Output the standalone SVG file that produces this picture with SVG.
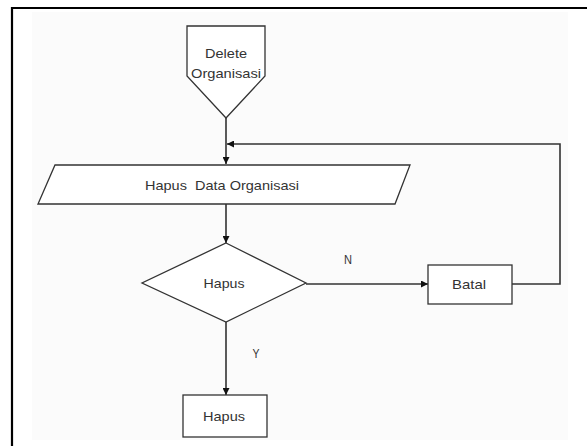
<svg xmlns="http://www.w3.org/2000/svg" width="587" height="446" viewBox="0 0 587 446">
<style>
.shape{fill:#fff;stroke:#333;stroke-width:1.3}
.conn{fill:none;stroke:#333;stroke-width:1.6}
.lbl{font-family:"Liberation Sans",Arial,sans-serif;font-size:13px;fill:#333;text-anchor:middle;dominant-baseline:central}
</style>
<defs>
<marker id="arr" viewBox="0 0 10 10" refX="10" refY="5" markerWidth="7" markerHeight="7" markerUnits="userSpaceOnUse" orient="auto">
<path d="M0,0 L10,5 L0,10 z" fill="#111"/>
</marker>
</defs>
<rect x="0" y="0" width="587" height="446" fill="#fff"/>
<rect x="32" y="12" width="536" height="428" fill="#fbfbfb"/>
<path d="M12,446 V8 H587" fill="none" stroke="#000" stroke-width="2.2"/>
<g id="connectors">
<path class="conn" d="M226,118 V164" marker-end="url(#arr)"/>
<path class="conn" d="M512,284 H560 V144 H227" marker-end="url(#arr)"/>
<path class="conn" d="M226,204 V243" marker-end="url(#arr)"/>
<path class="conn" d="M306,284 H428" marker-end="url(#arr)"/>
<path class="conn" d="M226,322 V395" marker-end="url(#arr)"/>
<text class="lbl" x="348" y="259" textLength="8" lengthAdjust="spacingAndGlyphs">N</text>
<text class="lbl" x="256" y="353" textLength="7" lengthAdjust="spacingAndGlyphs">Y</text>
</g>
<g id="start">
<polygon class="shape" points="187,26 265,26 265,76 226,118 187,76"/>
<text class="lbl" x="226" y="53" textLength="42" lengthAdjust="spacingAndGlyphs">Delete</text>
<text class="lbl" x="226" y="73" textLength="70" lengthAdjust="spacingAndGlyphs">Organisasi</text>
</g>
<g id="input">
<polygon class="shape" points="55,165 410,165 395,204 38,204"/>
<text class="lbl" x="222" y="185" xml:space="preserve" textLength="154" lengthAdjust="spacingAndGlyphs">Hapus  Data Organisasi</text>
</g>
<g id="decision">
<polygon class="shape" points="226,243 306,283 226,322 142,283"/>
<text class="lbl" x="224" y="283" textLength="41" lengthAdjust="spacingAndGlyphs">Hapus</text>
</g>
<g id="batal">
<rect class="shape" x="428" y="265" width="84" height="39"/>
<text class="lbl" x="469" y="284" textLength="34" lengthAdjust="spacingAndGlyphs">Batal</text>
</g>
<g id="hapus">
<rect class="shape" x="183" y="395" width="84" height="42"/>
<text class="lbl" x="224" y="416" textLength="42" lengthAdjust="spacingAndGlyphs">Hapus</text>
</g>
</svg>
